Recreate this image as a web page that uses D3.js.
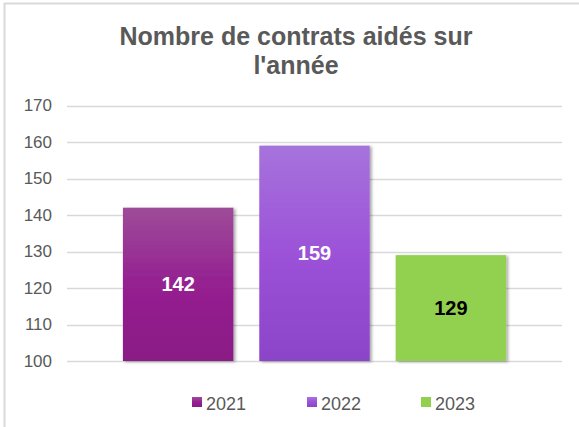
<!DOCTYPE html>
<html>
<head>
<meta charset="utf-8">
<script src="https://cdn.jsdelivr.net/npm/d3@7"></script>
<style>
  html, body { margin: 0; padding: 0; background: #fff; }
  svg { display: block; font-family: "Liberation Sans", Arial, sans-serif; }
</style>
</head>
<body>
<div id="chart"></div>
<script>
  // Data
  const years = ['2021', '2022', '2023'];
  const values = [142, 159, 129];
  const yTicks = [100, 110, 120, 130, 140, 150, 160, 170];
  const titleLines = ['Nombre de contrats aidés sur', "l'année"];

  // colours: [top, middle, bottom] of each bar gradient
  const barColors = [
    ['#9d4c99', '#952090', '#8a1a85'],
    ['#a673dc', '#9c52d8', '#8b44c7'],
    ['#92d050', '#92d050', '#92d050']
  ];
  const labelColors = ['#ffffff', '#ffffff', '#000000'];

  const width = 579, height = 427;
  const svg = d3.select('#chart').append('svg')
    .attr('width', width).attr('height', height);

  const defs = svg.append('defs');
  years.forEach((y, i) => {
    const g = defs.append('linearGradient')
      .attr('id', 'grad' + i).attr('x1', 0).attr('y1', 0).attr('x2', 0).attr('y2', 1);
    g.append('stop').attr('offset', '0%').attr('stop-color', barColors[i][0]);
    g.append('stop').attr('offset', '50%').attr('stop-color', barColors[i][1]);
    g.append('stop').attr('offset', '100%').attr('stop-color', barColors[i][2]);
  });
  const shadow = defs.append('filter').attr('id', 'shadow')
    .attr('x', '-10%').attr('y', '-10%').attr('width', '130%').attr('height', '130%');
  shadow.append('feDropShadow').attr('dx', 2).attr('dy', 1).attr('stdDeviation', 1.5)
    .attr('flood-color', '#000').attr('flood-opacity', 0.35);

  // border (top + left visible in the crop)
  svg.append('line').attr('x1', 4).attr('x2', width).attr('y1', 3.5).attr('y2', 3.5)
    .attr('stroke', '#d9d9d9').attr('stroke-width', 2);
  svg.append('line').attr('x1', 4.5).attr('x2', 4.5).attr('y1', 3).attr('y2', height)
    .attr('stroke', '#d9d9d9').attr('stroke-width', 2);

  // title
  svg.append('text')
    .attr('x', 296).attr('y', 45)
    .attr('text-anchor', 'middle')
    .attr('font-size', 25).attr('font-weight', 'bold').attr('fill', '#595959')
    .selectAll('tspan').data(titleLines).enter().append('tspan')
    .attr('x', 296).attr('dy', (d, i) => i === 0 ? 0 : 29)
    .text(d => d);

  const plotLeft = 67, plotRight = 562;
  const y = d3.scaleLinear().domain([100, 170]).range([361, 105.5]);
  const x = d3.scaleBand().domain(years).range([plotLeft, plotRight])
    .paddingInner(0.19).paddingOuter(0.41);

  // gridlines
  svg.append('g').selectAll('line').data(yTicks).enter().append('line')
    .attr('x1', plotLeft).attr('x2', plotRight)
    .attr('y1', d => Math.round(y(d)) + 0.5).attr('y2', d => Math.round(y(d)) + 0.5)
    .attr('stroke', '#d9d9d9').attr('stroke-width', 1.5);

  // y axis labels
  const yAxis = d3.axisLeft(y).tickValues(yTicks).tickSize(0).tickPadding(0);
  const ax = svg.append('g').attr('transform', `translate(52,0)`).call(yAxis);
  ax.select('.domain').remove();
  ax.selectAll('text').attr('font-size', 17).attr('fill', '#595959')
    .attr('font-family', '"Liberation Sans", Arial, sans-serif');

  // bars
  svg.append('g').selectAll('rect').data(values).enter().append('rect')
    .attr('x', (d, i) => x(years[i]))
    .attr('y', d => y(d))
    .attr('width', x.bandwidth())
    .attr('height', d => y(100) - y(d))
    .attr('fill', (d, i) => `url(#grad${i})`)
    .attr('filter', 'url(#shadow)');

  // data labels
  svg.append('g').selectAll('text').data(values).enter().append('text')
    .attr('x', (d, i) => x(years[i]) + x.bandwidth() / 2)
    .attr('y', d => (y(d) + y(100)) / 2)
    .attr('dy', '0.35em')
    .attr('text-anchor', 'middle')
    .attr('font-size', 20).attr('font-weight', 'bold')
    .attr('fill', (d, i) => labelColors[i])
    .text(d => d);

  // legend
  const legendX = [192, 307, 421];
  const leg = svg.append('g').selectAll('g').data(years).enter().append('g')
    .attr('transform', (d, i) => `translate(${legendX[i]},397)`);
  leg.append('rect').attr('width', 10).attr('height', 10)
    .attr('fill', (d, i) => `url(#grad${i})`);
  leg.append('text').attr('x', 14).attr('y', 12.5)
    .attr('font-size', 18).attr('fill', '#595959')
    .text(d => d);
</script>
</body>
</html>
